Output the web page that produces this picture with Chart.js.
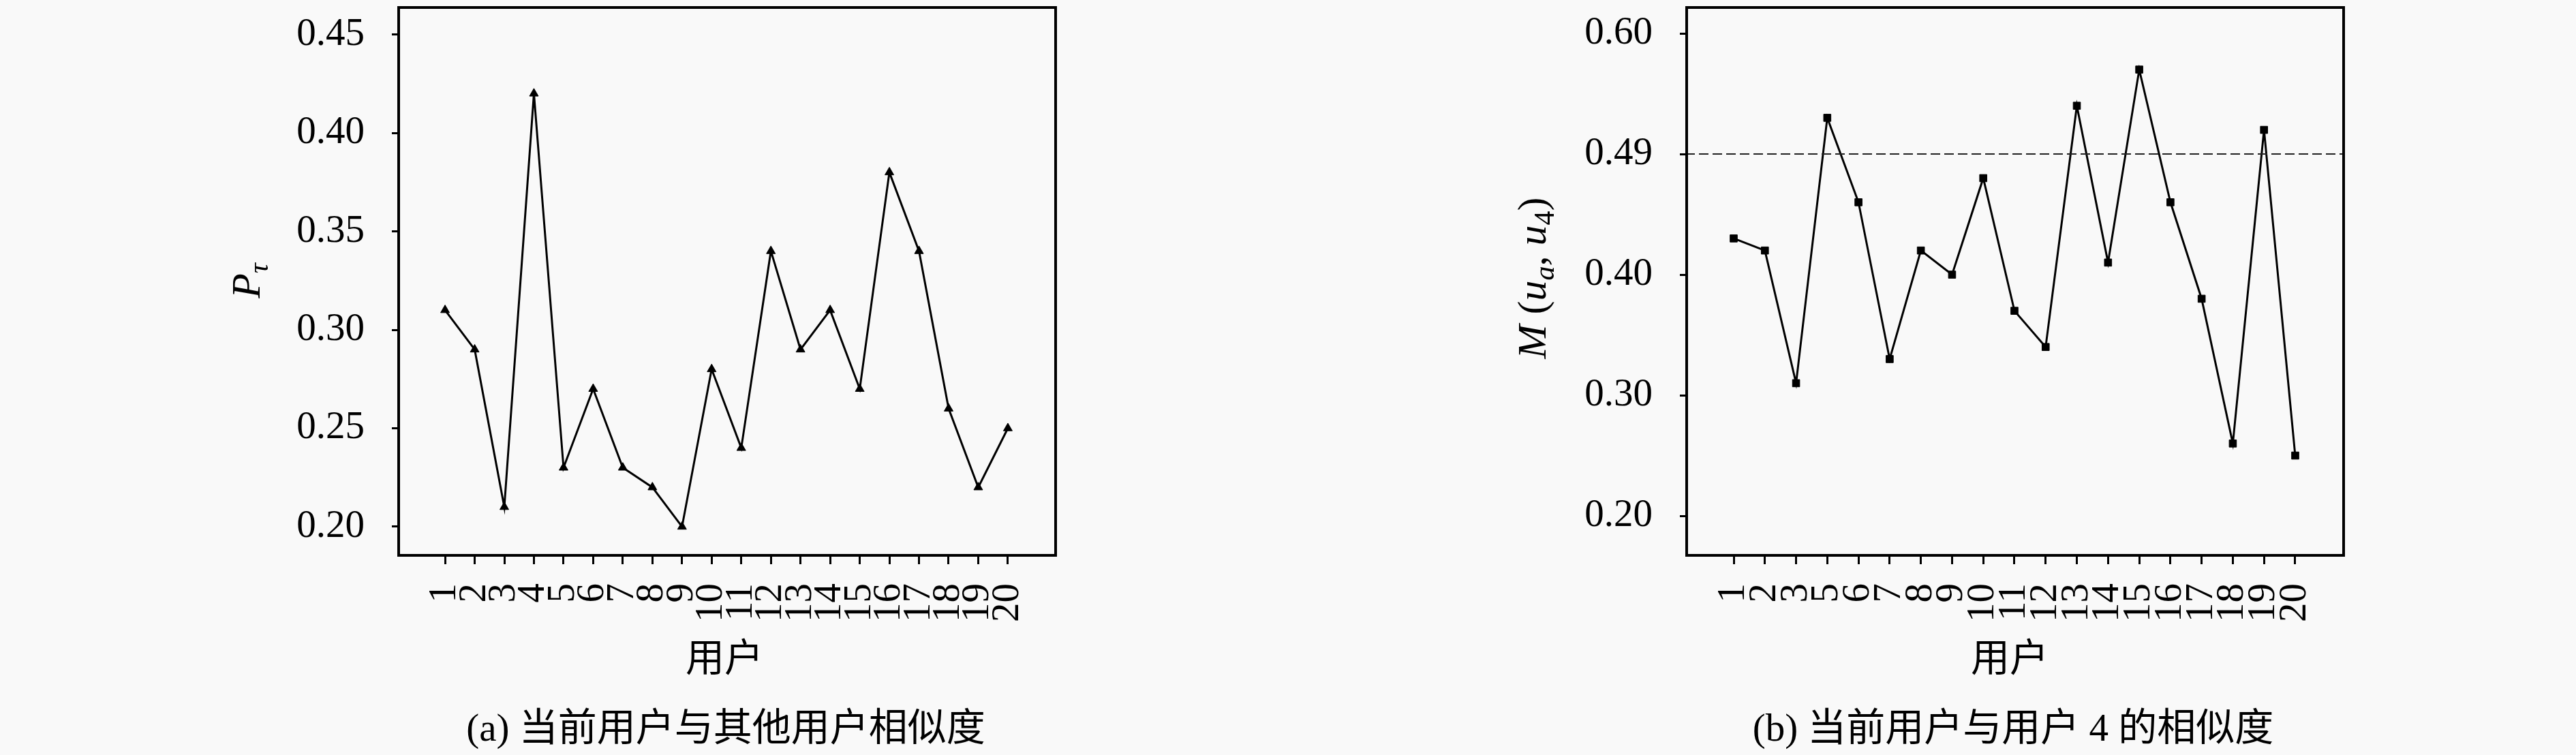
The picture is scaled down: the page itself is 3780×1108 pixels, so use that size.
<!DOCTYPE html>
<html><head><meta charset="utf-8">
<script src="https://cdn.jsdelivr.net/npm/chart.js@4/dist/chart.umd.min.js"></script>
<style>
html,body{margin:0;padding:0;background:#f9f9f9;width:3780px;height:1108px;overflow:hidden;}
canvas{position:absolute;top:0;}
</style>
</head><body>
<canvas id="chartA" width="1890" height="1108" style="left:0px"></canvas>
<canvas id="chartB" width="1890" height="1108" style="left:1890px"></canvas>
<script>
// ---------- data ----------
const usersA = ['1','2','3','4','5','6','7','8','9','10','11','12','13','14','15','16','17','18','19','20'];
const simA = [0.31,0.29,0.21,0.42,0.23,0.27,0.23,0.22,0.20,0.28,0.24,0.34,0.29,0.31,0.27,0.38,0.34,0.26,0.22,0.25];
const yTicksA = [0.20,0.25,0.30,0.35,0.40,0.45];
const yTickLabelsA = ['0.20','0.25','0.30','0.35','0.40','0.45'];

const usersB = ['1','2','3','5','6','7','8','9','10','11','12','13','14','15','16','17','18','19','20'];
const simB = [0.43,0.42,0.31,0.53,0.46,0.33,0.42,0.40,0.48,0.37,0.34,0.54,0.41,0.57,0.46,0.38,0.26,0.52,0.25];
const yTicksB = [0.20,0.30,0.40,0.50,0.60];
const yTickLabelsB = ['0.20','0.30','0.40','0.49','0.60'];
const thresholdB = 0.50;

const xTitle = '用户';
const captionA = '(a) 当前用户与其他用户相似度';
const captionB = '(b) 当前用户与用户 4 的相似度';

// ---------- helpers ----------
const SERIF = '"Liberation Serif", "Noto Sans CJK SC", serif';
const TICK_FONT = {family: SERIF, size: 57};

function drawRuns(ctx, runs, cx, cy, size, rotate) {
  ctx.save();
  ctx.translate(cx, cy);
  if (rotate) ctx.rotate(-Math.PI / 2);
  ctx.fillStyle = '#000';
  ctx.textBaseline = 'alphabetic';
  ctx.textAlign = 'left';
  const fontOf = r => (r.it ? 'italic ' : '') + Math.round(r.sub ? size * 0.7 : size) + 'px ' + SERIF;
  let total = 0;
  runs.forEach(r => { ctx.font = fontOf(r); r.w = ctx.measureText(r.t).width; total += r.w; });
  let x = -total / 2;
  runs.forEach(r => {
    ctx.font = fontOf(r);
    ctx.fillText(r.t, x, r.sub ? size * 0.2 : 0);
    x += r.w;
  });
  ctx.restore();
}

function drawCentered(ctx, text, cx, cy, size) {
  ctx.save();
  ctx.fillStyle = '#000';
  ctx.font = size + 'px ' + SERIF;
  ctx.textAlign = 'center';
  ctx.textBaseline = 'middle';
  ctx.fillText(text, cx, cy);
  ctx.restore();
}

const bgPlugin = {
  id: 'bg',
  beforeDraw(chart) {
    const c = chart.ctx;
    c.save(); c.fillStyle = '#f9f9f9'; c.fillRect(0, 0, chart.width, chart.height); c.restore();
  }
};
const framePlugin = {
  id: 'frame',
  afterDraw(chart) {
    const a = chart.chartArea, c = chart.ctx;
    c.save();
    c.strokeStyle = '#000';
    c.lineWidth = 4;
    c.strokeRect(a.left + 2, a.top + 2, a.right - a.left - 4, a.bottom - a.top - 3);
    c.restore();
  }
};

function makeChart(id, cfg) {
  const pts = cfg.values.map((v, i) => ({x: i, y: v}));
  const datasets = [];
  if (cfg.threshold != null) {
    datasets.push({
      data: [{x: cfg.xMin, y: cfg.threshold}, {x: cfg.xMax, y: cfg.threshold}],
      borderColor: '#222', borderWidth: 2, borderDash: [14, 6], pointRadius: 0, tension: 0
    });
  }
  datasets.push({
    data: pts, borderColor: '#000', borderWidth: 3, tension: 0,
    pointStyle: cfg.marker, pointRadius: cfg.radius,
    pointBackgroundColor: '#000', pointBorderColor: '#000', pointBorderWidth: 1, clip: false
  });
  const textPlugin = {
    id: 'texts',
    afterDraw(chart) {
      const c = chart.ctx;
      drawRuns(c, cfg.yTitleRuns, cfg.yTitleX, cfg.yTitleY, 60, true);
      drawCentered(c, xTitle, cfg.xTitleX, 970, 57);
      drawCentered(c, cfg.caption, cfg.captionX, 1072, 57);
    }
  };
  return new Chart(document.getElementById(id), {
    type: 'line',
    data: {datasets},
    options: {
      responsive: false, animation: false, devicePixelRatio: 1,
      layout: {padding: {left: 0, top: 9, right: 339, bottom: 0}},
      plugins: {legend: {display: false}, tooltip: {enabled: false}, title: {display: false}},
      scales: {
        x: {
          type: 'linear', min: cfg.xMin, max: cfg.xMax,
          afterBuildTicks: s => { s.ticks = cfg.labels.map((_, i) => ({value: i})); },
          afterFit: s => { s.height = 292; s.paddingLeft = 0; s.paddingRight = 0; s.paddingTop = 0; s.paddingBottom = 0; },
          ticks: {autoSkip: false, minRotation: 90, maxRotation: 90, padding: 28, color: '#000', font: TICK_FONT,
                  callback: v => cfg.labels[v]},
          grid: {drawOnChartArea: false, drawTicks: true, tickLength: 12, tickWidth: 3, tickColor: '#000'},
          border: {display: false}
        },
        y: {
          type: 'linear', min: cfg.yMin, max: cfg.yMax,
          afterBuildTicks: s => { s.ticks = cfg.yTicks.map(v => ({value: v})); },
          afterFit: s => { s.width = 583; s.paddingTop = 0; s.paddingBottom = 0; s.paddingLeft = 0; s.paddingRight = 0; },
          ticks: {padding: 40, color: '#000', font: TICK_FONT,
                  callback: (v, i) => cfg.yLabels[i]},
          grid: {drawOnChartArea: false, drawTicks: true, tickLength: 8, tickWidth: 3, tickColor: '#000'},
          border: {display: false}
        }
      }
    },
    plugins: [bgPlugin, framePlugin, textPlugin]
  });
}

makeChart('chartA', {
  labels: usersA, values: simA, yTicks: yTicksA, yLabels: yTickLabelsA,
  xMin: -1.612, xMax: 20.658, yMin: 0.1851, yMax: 0.4644,
  marker: 'triangle', radius: 7.5,
  yTitleRuns: [{t: 'P', it: true}, {t: 'τ', it: true, sub: true}],
  yTitleX: 381, yTitleY: 412,
  xTitleX: 1063, caption: captionA, captionX: 1065
});

makeChart('chartB', {
  labels: usersB, values: simB, yTicks: yTicksB, yLabels: yTickLabelsB, threshold: thresholdB,
  xMin: -1.551, xMax: 19.595, yMin: 0.1667, yMax: 0.6226,
  marker: 'rect', radius: 7.5,
  yTitleRuns: [{t: 'M', it: true}, {t: ' ('}, {t: 'u', it: true}, {t: 'a', it: true, sub: true}, {t: ', '},
               {t: 'u', it: true}, {t: '4', sub: true}, {t: ')'}],
  yTitleX: 378, yTitleY: 408,
  xTitleX: 1059, caption: captionB, captionX: 1064
});
</script>
</body></html>
